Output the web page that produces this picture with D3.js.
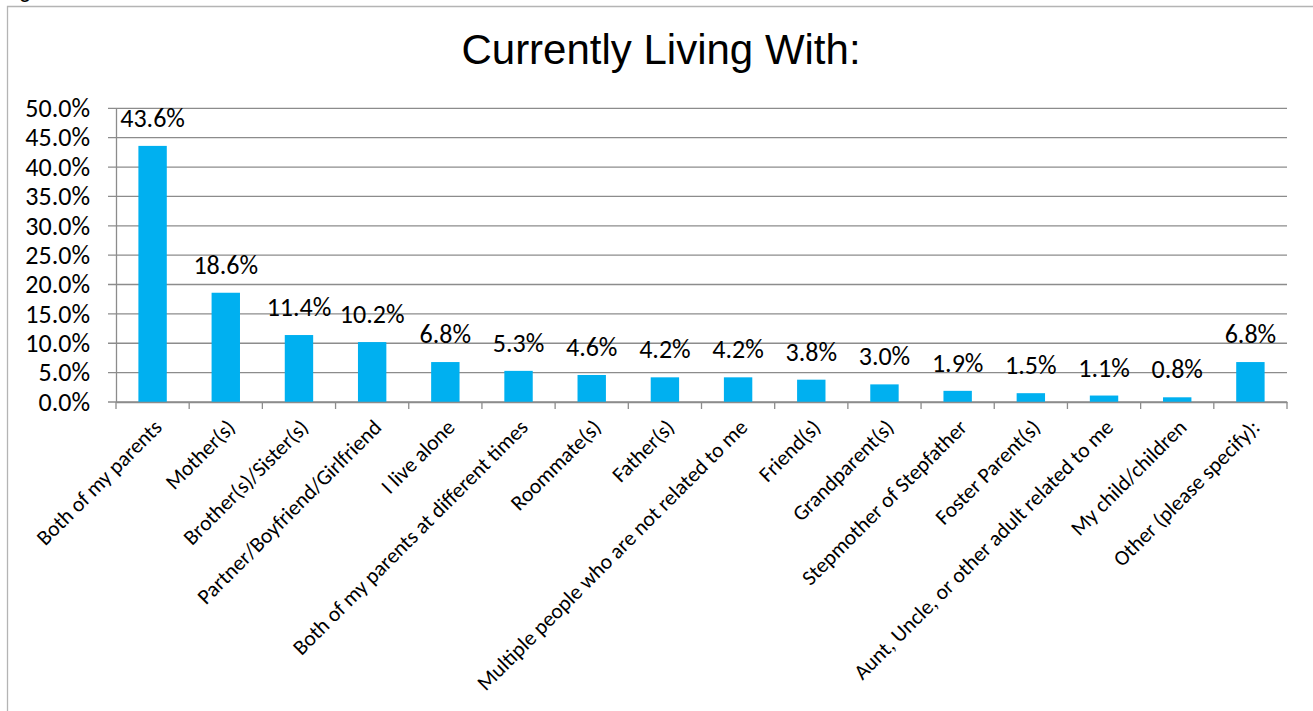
<!DOCTYPE html>
<html><head><meta charset="utf-8">
<script src="https://cdn.jsdelivr.net/npm/d3@7"></script>
<style>
html,body{margin:0;padding:0;background:#fff;}
svg{display:block;}
</style></head>
<body>
<svg id="chart" width="1313" height="711"></svg>
<script>
const categories = ["Both of my parents","Mother(s)","Brother(s)/Sister(s)","Partner/Boyfriend/Girlfriend","I live alone","Both of my parents at different times","Roommate(s)","Father(s)","Multiple people who are not related to me","Friend(s)","Grandparent(s)","Stepmother of Stepfather","Foster Parent(s)","Aunt, Uncle, or other adult related to me","My child/children","Other (please specify):"];
const values = [43.6,18.6,11.4,10.2,6.8,5.3,4.6,4.2,4.2,3.8,3.0,1.9,1.5,1.1,0.8,6.8];
const yTicks = [0,5,10,15,20,25,30,35,40,45,50];
const chartTitle = "Currently Living With:";

(function(){
const svg = d3.select("#chart");
const pL = 116, pR = 1287, pT = 108.3, pB = 402;
const lblFont = "Calibri, Carlito, Lato, sans-serif";
const fsNum = 26, fsCat = 21.5;

// frame
svg.append("path").attr("d","M7.5,711V6.5H1313").attr("fill","none").attr("stroke","#b4b4b4").attr("stroke-width",1.3);
// clipped text fragment at top-left (as in reference)
svg.append("text").attr("x",19).attr("y",-3).attr("font-family","'Liberation Sans', Arial, sans-serif").attr("font-size",22).attr("fill","#000").text("g");

svg.append("text").attr("x",661).attr("y",64).attr("text-anchor","middle")
  .attr("font-family","'Liberation Sans', Arial, sans-serif").attr("font-size",42).attr("fill","#000").text(chartTitle);

const x = d3.scaleBand().domain(categories).range([pL,pR]).paddingInner(0).paddingOuter(0);
const y = d3.scaleLinear().domain([0,50]).range([pB,pT]);

// gridlines
svg.append("g").selectAll("line").data(yTicks).join("line")
  .attr("x1",pL-8).attr("x2",pR).attr("y1",d=>y(d)).attr("y2",d=>y(d))
  .attr("stroke","#8c8c8c").attr("stroke-width",1.3);

// y axis
const yAxis = d3.axisLeft(y).tickValues(yTicks).tickSize(0).tickPadding(26).tickFormat(d=>d.toFixed(1)+"%");
const gy = svg.append("g").attr("transform",`translate(${pL},0)`).call(yAxis);
gy.select(".domain").attr("stroke","#8c8c8c").attr("stroke-width",1.3);
gy.selectAll("text").attr("font-family",lblFont).attr("font-size",fsNum).attr("fill","#000");

// bars
const bw = 28.4;
svg.append("g").selectAll("rect").data(values).join("rect")
  .attr("x",(d,i)=>x(categories[i])+x.bandwidth()/2-bw/2)
  .attr("width",bw)
  .attr("y",d=>y(d)).attr("height",d=>pB-y(d))
  .attr("fill","#00B0F0");

// x axis
const xAxis = d3.axisBottom(x).tickSize(0).tickFormat(()=> "");
const gx = svg.append("g").attr("transform",`translate(0,${pB})`).call(xAxis);
gx.select(".domain").attr("stroke","#8c8c8c").attr("stroke-width",1.3);
const bounds = categories.map(c=>x(c)).concat([pR]);
svg.append("g").selectAll("line").data(bounds).join("line")
  .attr("x1",d=>d).attr("x2",d=>d).attr("y1",pB).attr("y2",pB+7)
  .attr("stroke","#8c8c8c").attr("stroke-width",1.3);

// category labels
svg.append("g").selectAll("text").data(categories).join("text")
  .attr("transform",d=>`translate(${x(d)+x.bandwidth()/2},${pB+16}) rotate(-45)`)
  .attr("text-anchor","end").attr("dy","0.7em")
  .attr("font-family",lblFont).attr("font-size",fsCat).attr("fill","#000")
  .text(d=>d);

// data labels
svg.append("g").selectAll("text").data(values).join("text")
  .attr("x",(d,i)=>x(categories[i])+x.bandwidth()/2)
  .attr("y",d=>y(d)-19)
  .attr("text-anchor","middle")
  .attr("font-family",lblFont).attr("font-size",fsNum).attr("fill","#000")
  .text(d=>d.toFixed(1)+"%");
})();
</script>
</body></html>
